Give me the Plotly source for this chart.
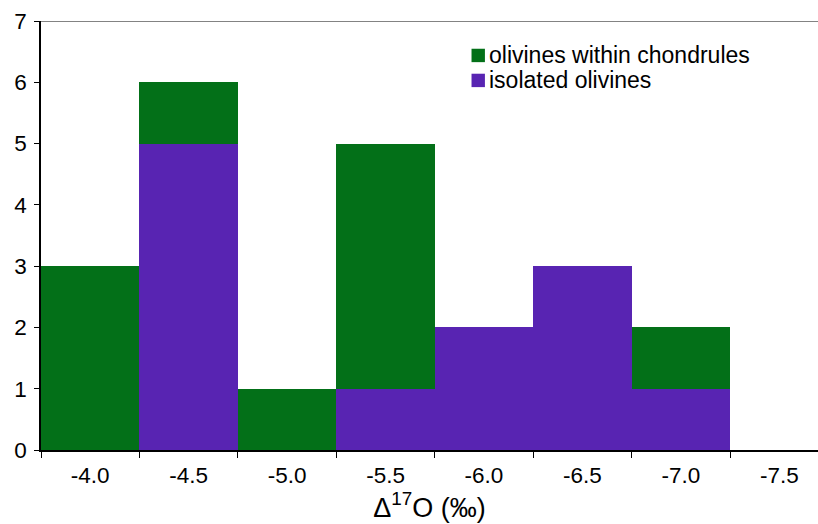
import plotly.graph_objects as go

categories = ["-4.0", "-4.5", "-5.0", "-5.5", "-6.0", "-6.5", "-7.0", "-7.5"]
isolated = [0, 5, 0, 1, 2, 3, 1, 0]
chondrules = [3, 1, 1, 4, 0, 0, 1, 0]
legend_labels = ["olivines within chondrules", "isolated olivines"]

GREEN = "#037018"
PURPLE = "#5824B2"
FONT = "Liberation Sans, Arial, sans-serif"

fig = go.Figure()
fig.add_trace(go.Bar(x=categories, y=isolated, name=legend_labels[1],
                     marker=dict(color=PURPLE, line=dict(width=0)), showlegend=False))
fig.add_trace(go.Bar(x=categories, y=chondrules, name=legend_labels[0],
                     marker=dict(color=GREEN, line=dict(width=0)), showlegend=False))

# manual legend (compact spacing like the original)
leg_rows = [(legend_labels[0], GREEN, 0.9197), (legend_labels[1], PURPLE, 0.8615)]
shapes = [dict(type="line", xref="paper", yref="y", x0=0, x1=1, y0=7, y1=7,
               line=dict(color="#5a5a5a", width=1.5))]
annotations = []
for text, col, yy in leg_rows:
    shapes.append(dict(type="rect", xref="paper", yref="paper",
                       xsizemode="pixel", ysizemode="pixel",
                       xanchor=0.5627, yanchor=yy, x0=-6.7, x1=6.7, y0=-6.7, y1=6.7,
                       fillcolor=col, line=dict(width=0)))
    annotations.append(dict(text=text, xref="paper", yref="paper", x=0.5735, y=yy,
                            xanchor="left", yanchor="middle", showarrow=False,
                            font=dict(size=23, color="black")))

fig.update_layout(
    width=818, height=524,
    barmode="stack", bargap=0,
    plot_bgcolor="white", paper_bgcolor="white",
    margin=dict(l=40.5, r=0, t=20.5, b=74),
    font=dict(family=FONT, color="black", size=22),
    showlegend=False,
    xaxis=dict(type="category", range=[-0.5, 7.393], showline=True, linecolor="black",
               linewidth=1.5, ticks="outside", ticklen=6, tickcolor="black",
               tickson="boundaries", showgrid=False, tickfont=dict(size=22.5),
               automargin=False, ticklabelstandoff=4,
               title=dict(text="Δ<sup>17</sup>O (‰)", font=dict(size=27), standoff=11)),
    yaxis=dict(range=[0, 7], dtick=1, showline=True, linecolor="black", linewidth=1.5,
               ticks="outside", ticklen=5, tickcolor="black", showgrid=False,
               automargin=False, ticklabelstandoff=3,
               zeroline=False, tickfont=dict(size=22.5)),
    shapes=shapes,
    annotations=annotations,
)

fig.write_html("out.html", config={"displayModeBar": False},
               post_script="document.body.style.margin='0';document.body.style.overflow='hidden';")
